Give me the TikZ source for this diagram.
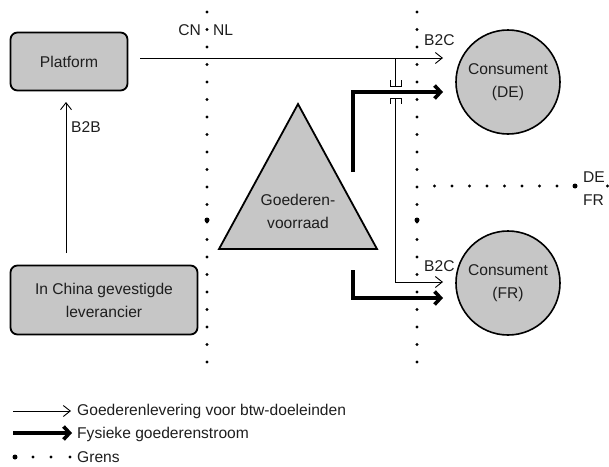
\documentclass[tikz,border=0pt]{standalone}
\usepackage{fontspec}
\setmainfont{Liberation Sans}
\usetikzlibrary{arrows.meta}
\definecolor{fillmid}{RGB}{198,198,198}
\definecolor{filledge}{RGB}{160,160,160}
\definecolor{txt}{RGB}{30,30,30}
\pgfdeclareradialshading{softedge}{\pgfpoint{0bp}{0bp}}{color(0bp)=(fillmid); color(40bp)=(fillmid); color(50bp)=(filledge); color(72bp)=(filledge)}
\tikzset{
  fnt/.style={font=\fontsize{15.6}{23}\selectfont, text=txt},
  boxnode/.style={fnt, draw=black, line width=1.8pt, rounded corners=7pt, shading=softedge, align=center, inner sep=0pt},
  circnode/.style={fnt, draw=black, line width=1.6pt, circle, shading=softedge, align=center, minimum size=104pt, inner sep=0pt},
  lbl/.style={fnt, inner sep=0pt},
  thin/.style={line width=0.9pt, -{Straight Barb[length=7pt,width=11pt,line width=0.9pt]}},
  thick/.style={line width=3.6pt, -{Straight Barb[length=6pt,width=13pt,line width=3.6pt]}},
  plain/.style={line width=0.9pt},
  gdot/.style={fill=black, circle, inner sep=0pt, minimum size=3.2pt},
  bigdot/.style={fill=black, circle, inner sep=0pt, minimum size=5pt},
}
\begin{document}
\begin{tikzpicture}[x=1pt,y=-1pt]
\useasboundingbox (0,0) rectangle (609,466);
% boxes
\node[boxnode, minimum width=117pt, minimum height=58pt] (plat) at (69,61.5) {Platform};
\node[boxnode, minimum width=187pt, minimum height=69pt] (sup) at (104,300) {In China gevestigde\\leverancier};
% triangle
\path[draw=black, line width=1.8pt, shading=softedge, line join=miter] (219,249) -- (298,104) -- (377,249) -- cycle;
\node[lbl, align=center] (stock) at (298,211) {Goederen-\\voorraad};
% circles
\node[circnode] (cde) at (508,82) {Consument\\(DE)};
\node[circnode] (cfr) at (508,283) {Consument\\(FR)};
% dotted borders
\foreach \i in {0,...,20} {
  \pgfmathsetmacro{\yy}{12+17.5*\i}
  \node[gdot] at (207,\yy) {};
  \node[gdot] at (417,\yy) {};
}
\node[bigdot] (b1) at (207,220) {};
\node[bigdot] (b2) at (417,220) {};
\foreach \i in {1,...,8} {
  \pgfmathsetmacro{\xx}{417+17.5*\i}
  \node[gdot] at (\xx,186) {};
}
\node[bigdot] (b3) at (575,186) {};
\node[gdot] (b4) at (607.5,186) {};
\node[lbl, anchor=east] (cn) at (201,30) {CN};
\node[lbl, anchor=west] (nl) at (213,30) {NL};
\node[lbl, anchor=west] (de) at (583,177) {DE};
\node[lbl, anchor=west] (fr) at (583,200) {FR};
% coordinates
\coordinate (pstart) at (140,58);
\coordinate (pend) at (443,58);
\coordinate (jn) at (395,58);
\coordinate (up1) at (395,86);
\coordinate (lo1) at (395,98);
\coordinate (corn) at (395,282);
\coordinate (frend) at (443,282);
\coordinate (bstart) at (66,253);
\coordinate (bend) at (66,102);
% B2B
\draw[thin] (bstart) -- (bend);
\node[lbl, anchor=west] (b2b) at (71,127) {B2B};
% platform to DE
\draw[thin] (pstart) -- (pend);
\node[lbl, anchor=west] (b2c1) at (424,40) {B2C};
% platform to FR with bridge
\draw[plain] (jn) -- (up1);
\draw[plain] (390,80) -- (390,86) -- (401,86) -- (401,80);
\draw[plain] (390,104) -- (390,98) -- (401,98) -- (401,104);
\draw[thin] (lo1) -- (corn) -- (frend);
\node[lbl, anchor=west] (b2c2) at (424,266) {B2C};
% thick flows
\coordinate (t1s) at (353,172);
\coordinate (t1c) at (353,92);
\coordinate (t1e) at (443,92);
\coordinate (t2s) at (353,270);
\coordinate (t2c) at (353,298);
\coordinate (t2e) at (443,298);
\draw[thick, line join=miter] (t1s) -- (t1c) -- (t1e);
\draw[thick, line join=miter] (t2s) -- (t2c) -- (t2e);
% legend
\coordinate (l1s) at (13,411);
\coordinate (l1e) at (71,411);
\coordinate (l2s) at (13,433);
\coordinate (l2e) at (72,433);
\draw[thin] (l1s) -- (l1e);
\draw[thick] (l2s) -- (l2e);
\node[lbl, anchor=west] (lt1) at (77,411) {Goederenlevering voor btw-doeleinden};
\node[lbl, anchor=west] (lt2) at (77,434) {Fysieke goederenstroom};
\node[bigdot] (ld1) at (15,457) {};
\node[gdot] (ld2) at (33,457) {};
\node[gdot] (ld3) at (51,457) {};
\node[gdot] (ld4) at (70,457) {};
\node[lbl, anchor=west] (lt3) at (77,457) {Grens};
\end{tikzpicture}
\end{document}
